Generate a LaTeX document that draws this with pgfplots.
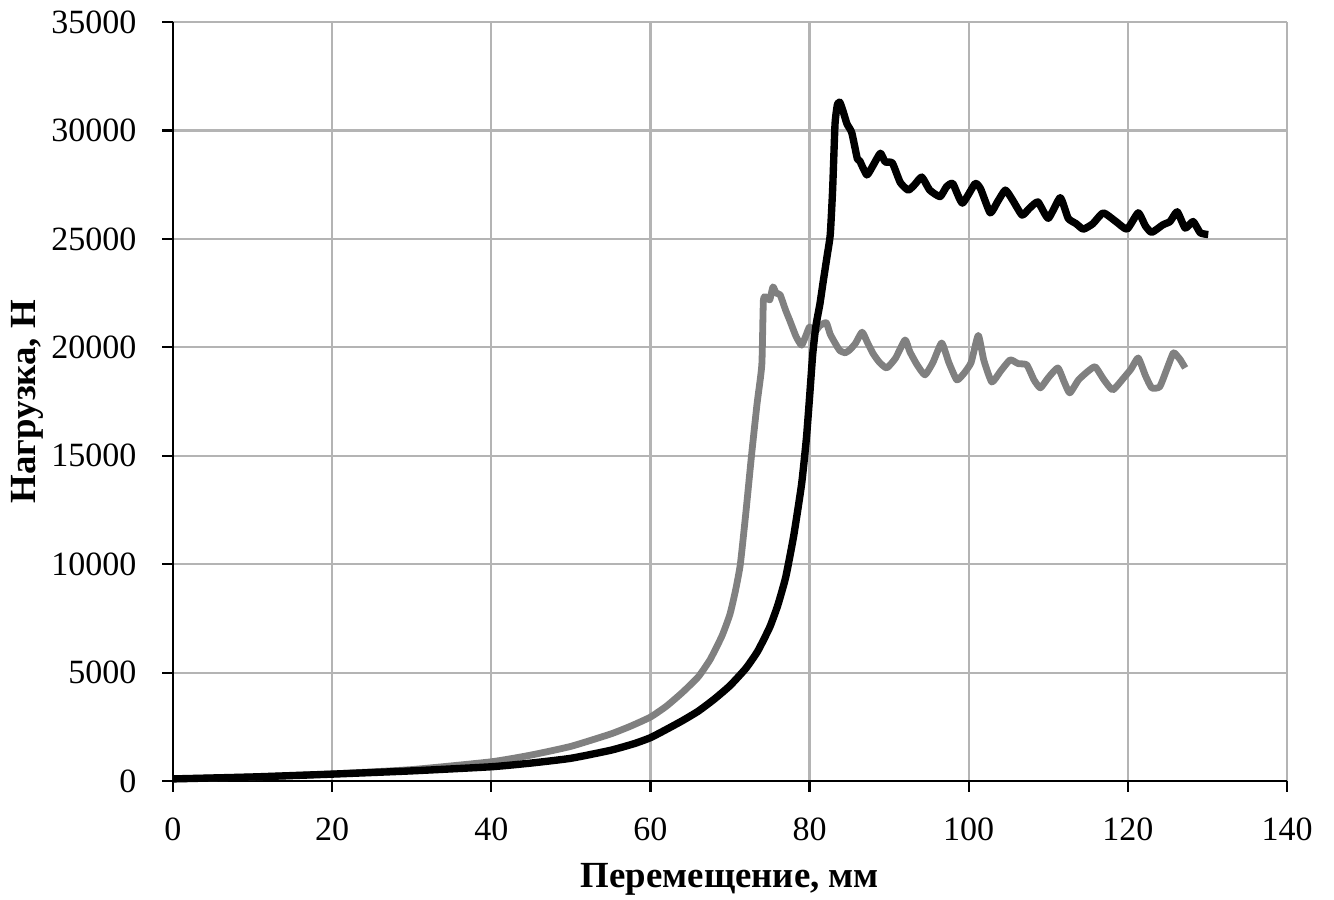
\documentclass[border=0pt]{standalone}
\usepackage{fontspec}
\setmainfont{Liberation Serif}
\usepackage{pgfplots}
\pgfplotsset{compat=1.18}
\definecolor{gridgray}{RGB}{180,180,180}
\definecolor{curvegray}{RGB}{128,128,128}
\begin{document}
\begin{tikzpicture}
\begin{axis}[
  scale only axis,
  width=13.821cm, height=9.417cm,
  xmin=0, xmax=140, ymin=0, ymax=35000,
  xtick={0,20,...,140},
  ytick={0,5000,...,35000},
  scaled y ticks=false,
  /pgf/number format/assume math mode=true,
  yticklabel style={/pgf/number format/fixed,/pgf/number format/1000 sep={}, xshift=-0.2cm},
  xticklabel style={yshift=-0.2cm},
  ticklabel style={font=\fontsize{12}{14}\selectfont},
  axis x line*=bottom, axis y line*=left,
  axis line style={black, line width=0.8pt, -},
  tick align=outside,
  major tick length=0.13cm,
  tick style={black, line width=0.8pt},
  grid=major,
  major grid style={gridgray, line width=0.8pt},
  xlabel={\textbf{Перемещение, мм}},
  ylabel={\textbf{Нагрузка, Н}},
  label style={font=\fontsize{13}{15}\selectfont},
  xlabel style={at={(axis description cs:0.5,-0.1300)}, anchor=center},
  ylabel style={at={(axis description cs:-0.131,0.5)}, anchor=center},
  clip=false,
]
\addplot[curvegray, line width=2.4pt, line join=round, smooth, tension=0.3] coordinates {
(0,100) (10,190) (20,330) (30,530) (40,890) (45,1200) (50,1600) (55,2170)
(57.5,2530) (60,2950) (62,3450) (64,4080) (66,4800) (67.5,5600) (69,6700)
(70,7700) (70.7,8800) (71.3,10000) (72.0,12400) (72.7,15000) (73.4,17400)
(74.0,19200) (74.2,22190)
(74.6,22300) (75.0,22190) (75.4,22790) (75.8,22500) (76.3,22420) (77.0,21700)
(77.5,21250) (78.3,20500) (79.0,20100) (79.6,20600) (80.0,20940) (80.6,20700)
(81.3,21000) (82.1,21130) (82.6,20600) (83.2,20200) (83.8,19850) (84.5,19750)
(85.1,19900) (85.8,20200) (86.6,20700) (87.3,20200) (88.0,19700) (88.8,19300)
(89.7,19050) (90.8,19500) (92.0,20340) (92.6,19800) (93.5,19200) (94.5,18730)
(95.5,19300) (96.6,20200) (97.5,19300) (98.5,18500) (99.4,18800) (100.3,19300)
(101.2,20550) (101.9,19400) (102.9,18400) (104.0,18900) (105.2,19420)
(106.2,19250) (107.3,19190) (108.2,18500) (109.0,18130) (110.0,18600)
(111.2,19050) (112.0,18400) (112.7,17900) (113.8,18500) (115.0,18900)
(115.9,19100) (117.0,18500) (118.1,18040) (119.5,18600) (120.4,19000)
(121.3,19510) (122.2,18700) (123.0,18130) (124.0,18180) (124.8,18900)
(125.7,19740) (126.2,19600) (126.6,19420) (127.2,19050)
};
\addplot[black, line width=2.6pt, line join=round, smooth, tension=0.3] coordinates {
(0,100) (10,190) (20,320) (30,470) (40,660) (45,830) (50,1050) (55,1420)
(58,1730) (60,2000) (62,2380) (64,2780) (66,3220) (68,3770) (70,4400)
(72,5200) (73.5,6000) (75,7100) (76,8100) (77,9400) (78,11300) (79,13700)
(79.6,15800) (80.0,17700) (80.4,19700) (80.8,21000) (81.3,22000) (81.7,23000)
(82.2,24200) (82.6,25200) (82.9,27300) (83.2,30300) (83.5,31200)
(83.8,31300) (84.2,30900) (84.7,30300) (85.3,29900) (86.0,28700) (86.3,28600)
(87.2,27950) (88.0,28400) (88.9,28950) (89.5,28550) (90.4,28500) (91.4,27600)
(92.4,27250) (93.2,27500) (94.1,27850) (95.1,27250) (96.4,26950) (97.2,27400)
(98.0,27550) (99.2,26650) (100.8,27550) (101.5,27300) (102.7,26200)
(103.6,26700) (104.6,27250) (105.5,26800) (106.7,26100) (107.6,26400)
(108.7,26700) (110.0,25950) (111.5,26900) (112.5,25950) (113.5,25700)
(114.4,25450) (115.6,25700) (116.9,26200) (118.5,25800) (119.9,25450)
(121.3,26200) (122.2,25600) (123.0,25300) (124.4,25650) (125.3,25800)
(126.2,26250) (127.2,25500) (128.2,25800) (129.1,25280) (130.1,25200)
};
\end{axis}
\pgfresetboundingbox
\path (-2.146cm,-1.464cm) rectangle (14.404cm,9.690cm);
\end{tikzpicture}
\end{document}
